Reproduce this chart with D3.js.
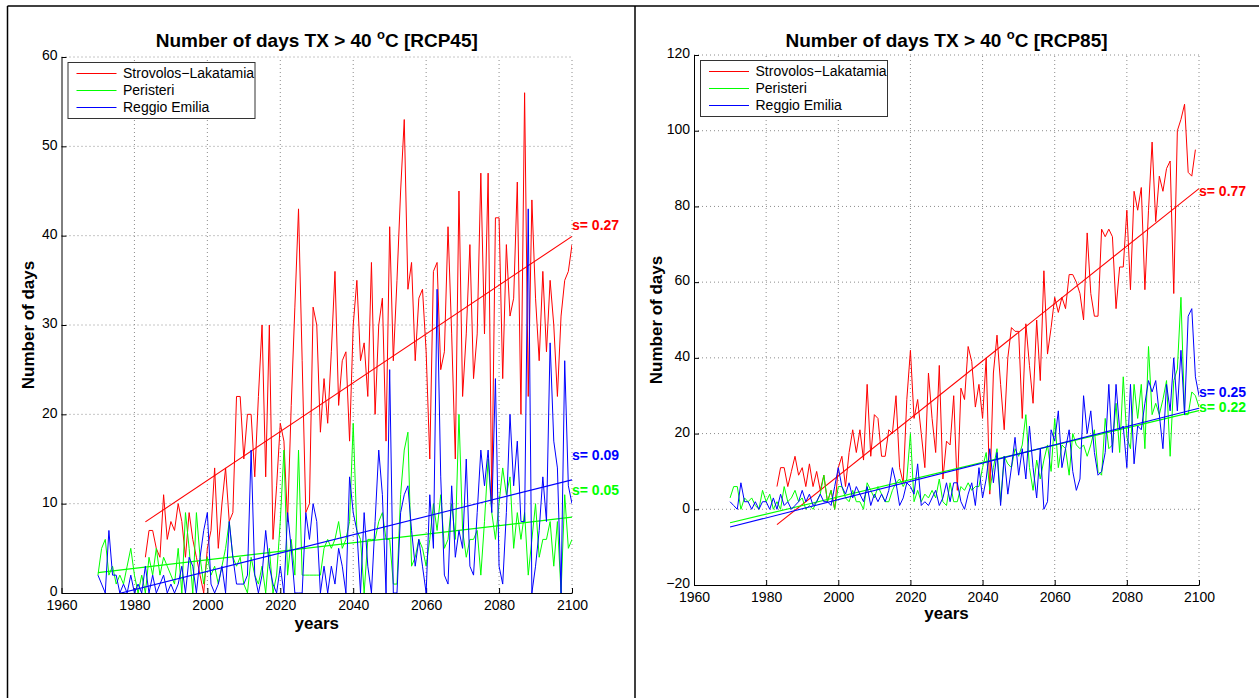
<!DOCTYPE html>
<html>
<head>
<meta charset="utf-8">
<script src="https://cdn.jsdelivr.net/npm/d3@7"></script>
<style>
body { margin: 0; background: #fff; }
svg text { font-family: "Liberation Sans", Arial, Helvetica, sans-serif; }
</style>
</head>
<body>
<svg id="chart" width="1259" height="698"></svg>
<script>
// Station names and colours (legend order)
const stations = ['Strovolos\u2212Lakatamia', 'Peristeri', 'Reggio Emilia'];
const colors = ['#ff0000', '#00ff00', '#0000ff'];

// First year of each series (Strovolos starts later)
const startYears = [1983, 1970, 1970];
const lastYear = 2100;

// RCP45 - days with TX > 40 C
const strovolos45 = [4, 7, 7, 5, 4, 11, 6, 8, 7, 10, 8, 4, 9, 6, 4, 2, 0, 5, 7, 14,
  5, 10, 14, 8, 9, 22, 22, 15, 20, 20, 13, 22, 30, 13, 30, 6, 12, 19, 17, 8,
  21, 32, 43, 26, 9, 10, 32, 30, 18, 24, 19, 27, 36, 21, 26, 27, 17, 30, 35, 26,
  28, 22, 37, 20, 30, 33, 17, 41, 26, 35, 45, 53, 34, 37, 26, 33, 34, 27, 15, 36,
  37, 25, 27, 41, 29, 15, 45, 22, 29, 39, 24, 29, 47, 29, 47, 10, 42, 42, 24, 39,
  31, 33, 46, 20, 56, 22, 44, 33, 26, 36, 27, 35, 30, 22, 31, 35, 36, 39];
const peristeri45 = [2, 5, 6, 2, 3, 1, 2, 1, 3, 5, 2, 0, 2, 0, 4, 2, 5, 2, 4, 3,
  2, 1, 5, 0, 9, 5, 0, 9, 4, 1, 4, 2, 3, 1, 3, 5, 8, 4, 3, 4,
  1, 0, 4, 2, 1, 3, 0, 5, 0, 2, 8, 16, 2, 6, 2, 16, 2, 2, 2, 2,
  2, 2, 5, 6, 5, 6, 8, 5, 6, 8, 19, 7, 6, 0, 6, 6, 6, 8, 9, 6,
  6, 1, 1, 11, 16, 18, 3, 4, 6, 5, 3, 6, 10, 7, 11, 5, 6, 10, 6, 20,
  7, 4, 6, 6, 7, 2, 8, 15, 9, 6, 10, 14, 11, 13, 5, 9, 6, 9, 2, 6,
  10, 4, 6, 6, 8, 3, 8, 0, 11, 5, 6];
const reggio45 = [2, 1, 0, 7, 2, 2, 0, 1, 0, 2, 0, 1, 0, 3, 0, 2, 0, 1, 2, 0,
  1, 0, 1, 3, 0, 4, 3, 0, 4, 7, 9, 1, 0, 1, 3, 0, 8, 4, 1, 1,
  1, 2, 16, 2, 0, 2, 7, 3, 1, 0, 3, 0, 9, 5, 0, 0, 0, 9, 6, 10,
  8, 0, 3, 0, 3, 1, 5, 3, 0, 13, 9, 7, 0, 9, 3, 0, 8, 16, 11, 0,
  25, 0, 0, 9, 11, 12, 7, 3, 6, 3, 0, 11, 5, 34, 13, 2, 1, 12, 4, 7,
  5, 15, 3, 2, 9, 16, 12, 16, 9, 24, 3, 1, 9, 20, 12, 17, 8, 8, 43, 0,
  3, 7, 13, 8, 28, 17, 14, 0, 26, 12, 10];

// RCP85 - days with TX > 40 C
const strovolos85 = [6, 11, 11, 6, 10, 14, 9, 11, 6, 12, 6, 10, 5, 9, 2, 5, 0, 11, 14, 6,
  15, 21, 15, 21, 13, 33, 14, 25, 24, 14, 14, 21, 20, 30, 11, 7, 29, 42, 24, 29,
  20, 11, 36, 24, 15, 38, 8, 18, 17, 30, 5, 32, 29, 43, 39, 27, 33, 24, 40, 4,
  36, 46, 33, 21, 40, 48, 47, 47, 24, 49, 38, 28, 50, 34, 63, 41, 48, 56, 52, 56,
  53, 62, 62, 60, 57, 50, 73, 57, 51, 51, 74, 72, 74, 72, 53, 64, 64, 79, 58, 84,
  79, 85, 58, 79, 97, 76, 88, 84, 90, 92, 57, 100, 103, 107, 89, 88, 95];
const peristeri85 = [3, 6, 6, 0, 3, 2, 3, 1, 0, 5, 2, 4, 0, 2, 0, 6, 2, 3, 5, 2,
  3, 0, 1, 0, 2, 4, 9, 2, 5, 0, 6, 6, 3, 2, 5, 2, 2, 0, 7, 5,
  3, 6, 4, 2, 2, 5, 7, 8, 6, 8, 20, 2, 5, 2, 4, 3, 5, 3, 8, 2,
  1, 7, 2, 2, 6, 5, 7, 5, 6, 6, 11, 15, 5, 11, 16, 2, 14, 12, 11, 16,
  14, 17, 25, 11, 5, 13, 8, 13, 17, 10, 24, 11, 17, 16, 9, 20, 17, 16, 17, 14,
  17, 21, 10, 9, 24, 16, 17, 28, 15, 35, 19, 16, 33, 24, 33, 16, 43, 25, 28, 25,
  29, 34, 14, 34, 37, 56, 25, 25, 31, 30, 27];
const reggio85 = [2, 1, 0, 7, 2, 2, 0, 2, 0, 2, 2, 0, 3, 0, 4, 1, 2, 0, 1, 2,
  5, 2, 4, 1, 2, 4, 2, 2, 1, 6, 11, 6, 4, 7, 3, 6, 4, 2, 6, 1,
  4, 2, 4, 2, 5, 11, 7, 1, 3, 7, 6, 4, 12, 1, 2, 1, 3, 5, 1, 3,
  7, 2, 7, 7, 2, 0, 4, 7, 1, 11, 3, 8, 16, 7, 15, 1, 14, 4, 11, 19,
  9, 16, 8, 22, 11, 3, 16, 0, 2, 21, 18, 26, 11, 16, 21, 10, 5, 8, 30, 20,
  26, 15, 9, 10, 15, 33, 15, 33, 21, 22, 11, 33, 12, 22, 21, 28, 34, 31, 34, 25,
  16, 33, 26, 40, 26, 42, 25, 51, 53, 35, 30];

// Slope labels and the height (data units) where each one sits at 2100
const slopes45 = ['s= 0.27', 's= 0.05', 's= 0.09'];
const labelAt45 = [41.2, 11.5, 15.4];
const slopes85 = ['s= 0.77', 's= 0.22', 's= 0.25'];
const labelAt85 = [84, 27, 31];

const xTicks = d3.range(1960, 2101, 20);

const svg = d3.select('#chart');

// outer figure frame
svg.append('g')
  .attr('stroke', '#000')
  .attr('stroke-width', 1.5)
  .selectAll('line')
  .data([[7.5, 6, 1259, 6], [7.5, 6, 7.5, 698], [635, 6, 635, 698]])
  .join('line')
  .attr('x1', d => d[0]).attr('y1', d => d[1])
  .attr('x2', d => d[2]).attr('y2', d => d[3]);

function toPoints(values, start) {
  return values.map((v, i) => ({year: start + i, v: v}));
}

// least squares trend
function fit(pts) {
  const mx = d3.mean(pts, d => d.year);
  const my = d3.mean(pts, d => d.v);
  const sxy = d3.sum(pts, d => (d.year - mx) * (d.v - my));
  const sxx = d3.sum(pts, d => (d.year - mx) ** 2);
  const b = sxy / sxx;
  return year => my + b * (year - mx);
}

let panelNo = 0;

function drawPanel(p) {
  const x = d3.scaleLinear().domain([1960, 2100]).range(p.xRange);
  const y = d3.scaleLinear().domain(p.yDomain).range(p.yRange);
  const g = svg.append('g');
  const clipId = 'clip' + (panelNo++);

  g.append('clipPath').attr('id', clipId)
    .append('rect')
    .attr('x', p.xRange[0]).attr('y', p.yRange[1])
    .attr('width', p.xRange[1] - p.xRange[0])
    .attr('height', p.yRange[0] - p.yRange[1]);

  // dotted grid
  g.append('g')
    .selectAll('line')
    .data(p.yTicks.filter(t => t !== p.yDomain[0]))
    .join('line')
    .attr('x1', x(1960)).attr('x2', x(2100))
    .attr('y1', d => y(d)).attr('y2', d => y(d))
    .attr('stroke', '#8c8c8c').attr('stroke-width', 1)
    .attr('stroke-dasharray', '1,3');
  g.append('g')
    .selectAll('line')
    .data(xTicks.filter(t => t !== 1960))
    .join('line')
    .attr('x1', d => x(d)).attr('x2', d => x(d))
    .attr('y1', y(p.yDomain[0])).attr('y2', y(p.yDomain[1]))
    .attr('stroke', '#8c8c8c').attr('stroke-width', 1)
    .attr('stroke-dasharray', '1,3');

  // axes, ticks pointing inwards
  const xAxis = d3.axisBottom(x).tickValues(xTicks).tickFormat(d3.format('d'))
    .tickSizeInner(-5).tickSizeOuter(0).tickPadding(7);
  const yAxis = d3.axisLeft(y).tickValues(p.yTicks)
    .tickSizeInner(-5).tickSizeOuter(0).tickPadding(4);
  g.append('g')
    .attr('transform', `translate(0,${y(p.yDomain[0])})`)
    .call(xAxis)
    .call(a => a.selectAll('text').attr('font-size', 14).attr('fill', '#000'));
  g.append('g')
    .attr('transform', `translate(${x(1960)},0)`)
    .call(yAxis)
    .call(a => a.selectAll('text').attr('font-size', 14).attr('fill', '#000')
      .attr('dy', '0.2em'));
  g.selectAll('.domain, .tick line').attr('stroke', '#000');

  // series and trends
  const plot = g.append('g').attr('clip-path', `url(#${clipId})`);
  const line = d3.line().x(d => x(d.year)).y(d => y(d.v));
  p.series.forEach((vals, i) => {
    const pts = toPoints(vals, startYears[i]);
    const f = fit(pts);
    plot.append('path')
      .datum(pts)
      .attr('d', line)
      .attr('fill', 'none')
      .attr('stroke', colors[i])
      .attr('stroke-width', 1)
      .attr('stroke-linejoin', 'round');
    plot.append('line')
      .attr('x1', x(startYears[i])).attr('y1', y(f(startYears[i])))
      .attr('x2', x(lastYear)).attr('y2', y(f(lastYear)))
      .attr('stroke', colors[i])
      .attr('stroke-width', 1.1);
    g.append('text')
      .attr('x', x(lastYear))
      .attr('y', y(p.labelAt[i]))
      .attr('dy', '0.35em')
      .attr('font-size', 14)
      .attr('font-weight', 'bold')
      .attr('fill', colors[i])
      .text(p.slopes[i]);
  });

  // legend
  const lx = x(1960) + 6.5, ly = y(p.yDomain[1]) + 5.5;
  const leg = g.append('g').attr('transform', `translate(${lx},${ly})`);
  leg.append('rect')
    .attr('width', 187).attr('height', 56)
    .attr('fill', '#fff').attr('stroke', '#333').attr('stroke-width', 1);
  stations.forEach((s, i) => {
    const ey = 11 + i * 17;
    leg.append('line')
      .attr('x1', 8.5).attr('x2', 48.5).attr('y1', ey).attr('y2', ey)
      .attr('stroke', colors[i]).attr('stroke-width', 1);
    leg.append('text')
      .attr('x', 55).attr('y', ey).attr('dy', '0.35em')
      .attr('font-size', 14).text(s);
  });

  // title
  const cx = (p.xRange[0] + p.xRange[1]) / 2;
  const t = g.append('text')
    .attr('x', cx).attr('y', 47)
    .attr('text-anchor', 'middle')
    .attr('font-size', 19).attr('font-weight', 'bold');
  t.append('tspan').text('Number of days TX > 40 ');
  t.append('tspan').attr('font-size', 13).attr('dy', -8).text('o');
  t.append('tspan').attr('dy', 8).text(`C [${p.name}]`);

  // axis titles
  g.append('text')
    .attr('x', cx).attr('y', p.xLabelY)
    .attr('text-anchor', 'middle')
    .attr('font-size', 17).attr('font-weight', 'bold')
    .text('years');
  g.append('text')
    .attr('transform', `translate(${p.yLabelX},${(p.yRange[0] + p.yRange[1]) / 2}) rotate(-90)`)
    .attr('text-anchor', 'middle')
    .attr('font-size', 17).attr('font-weight', 'bold')
    .text('Number of days');
}

drawPanel({
  name: 'RCP45',
  xRange: [61.5, 572], yRange: [593, 57], yDomain: [0, 60],
  yTicks: d3.range(0, 61, 10),
  series: [strovolos45, peristeri45, reggio45],
  slopes: slopes45, labelAt: labelAt45,
  xLabelY: 629, yLabelX: 34
});

drawPanel({
  name: 'RCP85',
  xRange: [694, 1199], yRange: [585, 55], yDomain: [-20, 120],
  yTicks: d3.range(-20, 121, 20),
  series: [strovolos85, peristeri85, reggio85],
  slopes: slopes85, labelAt: labelAt85,
  xLabelY: 619, yLabelX: 662
});
</script>
</body>
</html>
